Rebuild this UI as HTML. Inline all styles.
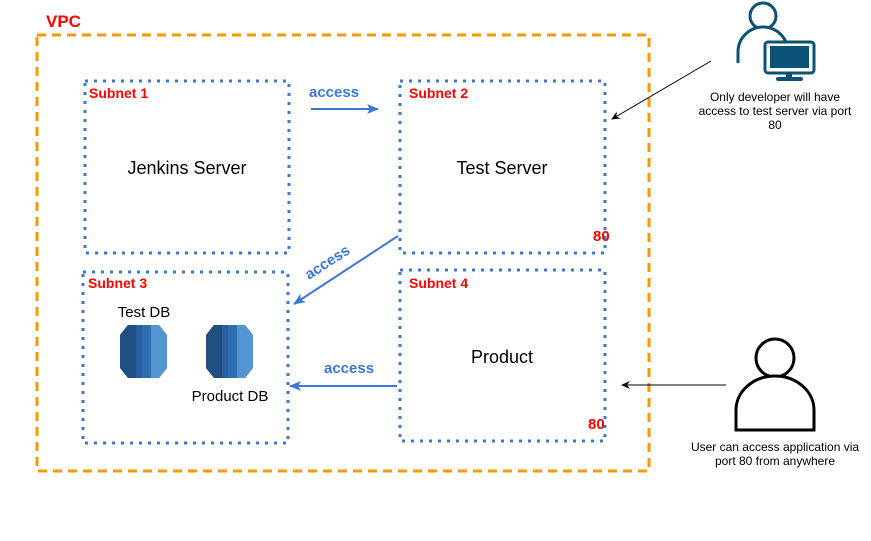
<!DOCTYPE html>
<html><head><meta charset="utf-8"><style>body{margin:0;background:#fff}svg{display:block}text{font-family:"Liberation Sans",Arial,sans-serif}</style></head>
<body>
<svg width="871" height="541" viewBox="0 0 871 541" xmlns="http://www.w3.org/2000/svg">
<defs>
<marker id="ab" markerWidth="14" markerHeight="14" refX="11" refY="7" orient="auto" markerUnits="userSpaceOnUse"><path d="M0,2 L12,7 L0,12 L3,7 Z" fill="#3a78d8"/></marker>
<marker id="ak" markerWidth="10" markerHeight="10" refX="8" refY="5" orient="auto" markerUnits="userSpaceOnUse"><path d="M0,1 L9,5 L0,9 L3,5 Z" fill="#000"/></marker>
<g id="db">
<path d="M8,0 H39 L47,10 V43 L39,53 H8 L0,43 V10 Z" fill="#2e6fb3"/>
<path d="M8,0 H16 V53 H8 L0,43 V10 Z" fill="#1f4f80"/>
<path d="M16,0 H22 V53 H16 Z" fill="#27609c"/>
<path d="M31,0 H39 L47,10 V43 L39,53 H31 Z" fill="#5595d1"/>
</g>
</defs>
<rect x="37" y="35" width="612" height="436" fill="none" stroke="#f59a00" stroke-width="3" stroke-dasharray="9,6"/>
<text x="46" y="27" font-size="17" font-weight="bold" fill="#f00">VPC</text>
<g fill="none" stroke="#3a78d8" stroke-width="3" stroke-dasharray="3,6">
<rect x="85" y="81" width="204" height="172"/>
<rect x="400" y="81" width="205" height="172"/>
<rect x="83" y="272" width="205" height="171"/>
<rect x="400" y="270" width="205" height="171"/>
</g>
<g font-size="14" font-weight="bold" fill="#f00">
<text x="89" y="98">Subnet 1</text>
<text x="409" y="98">Subnet 2</text>
<text x="88" y="288">Subnet 3</text>
<text x="409" y="288">Subnet 4</text>
<text x="593" y="241" font-size="15">80</text>
<text x="588" y="429" font-size="15">80</text>
</g>
<g font-size="18" fill="#000" text-anchor="middle">
<text x="187" y="174">Jenkins Server</text>
<text x="502" y="174">Test Server</text>
<text x="502" y="363">Product</text>
</g>
<g font-size="15" fill="#000" text-anchor="middle">
<text x="144" y="317">Test DB</text>
<text x="230" y="401">Product DB</text>
</g>
<use href="#db" x="120" y="325"/>
<use href="#db" x="206" y="325"/>
<g stroke="#3a78d8" stroke-width="2" fill="none">
<line x1="311" y1="109" x2="378" y2="109" marker-end="url(#ab)"/>
<line x1="398" y1="236" x2="294" y2="304" marker-end="url(#ab)"/>
<line x1="397" y1="386" x2="290" y2="386" marker-end="url(#ab)"/>
</g>
<g font-size="15" font-weight="bold" fill="#3a78d8">
<text x="309" y="97">access</text>
<text x="324" y="373">access</text>
<text x="0" y="0" transform="translate(309,280) rotate(-33)">access</text>
</g>
<g stroke="#000" stroke-width="1" fill="none">
<line x1="711" y1="61" x2="612" y2="119" marker-end="url(#ak)"/>
<line x1="726" y1="385" x2="622" y2="385" marker-end="url(#ak)"/>
</g>
<g stroke="#0a5276" stroke-width="3" fill="#fff">
<circle cx="763" cy="16" r="13"/>
<path d="M738,63 V52 A25,25 0 0 1 788,52"/>
<rect x="765" y="42" width="49" height="31" rx="3"/>
</g>
<rect x="770" y="46" width="39" height="22" fill="#0a5276"/>
<rect x="786" y="73" width="6" height="5" fill="#0a5276"/>
<rect x="776" y="77" width="27" height="4" rx="2" fill="#0a5276"/>
<g font-size="12" fill="#000" text-anchor="middle">
<text x="775" y="101">Only developer will have</text>
<text x="775" y="115">access to test server via port</text>
<text x="775" y="129">80</text>
<text x="775" y="451">User can access application via</text>
<text x="775" y="465">port 80 from anywhere</text>
</g>
<g stroke="#000" stroke-width="3" fill="#fff">
<circle cx="775" cy="358" r="19"/>
<path d="M736,430 V410 A39,34 0 0 1 814,410 V430 Z"/>
</g>
</svg>
</body></html>
